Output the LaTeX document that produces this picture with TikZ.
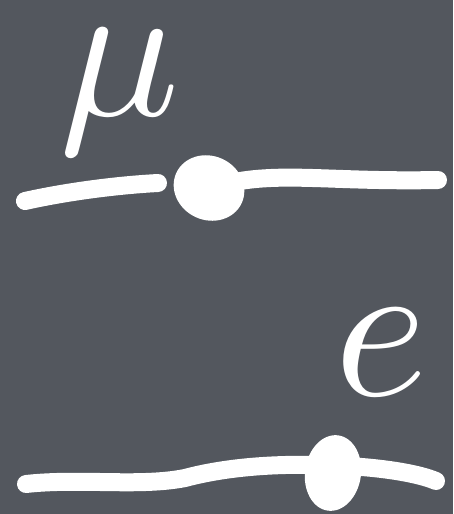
\documentclass[tikz,border=0pt]{standalone}
\usepackage{amsmath}
\usepackage{amssymb}
\usepackage{tikz}
\usetikzlibrary{shapes.geometric}
\definecolor{board}{RGB}{83,87,94}
\tikzset{stroke/.style={white, line width=18pt, line cap=round, line join=round},
  blob/.style={ellipse, fill=white, inner sep=0pt}}

\begin{document}
\begin{tikzpicture}[x=1pt,y=-1pt]
  \fill[board] (0,0) rectangle (453,514);
  \useasboundingbox (0,0) rectangle (453,514);
  % muon line
  \node[white, inner sep=0pt] (mu) at (120,92) {\scalebox{20}{$\mu$}};
  \draw[stroke] (25,201) .. controls (70,191) and (120,185) .. (158,183);
  \draw[stroke] (240,181) .. controls (290,173) and (340,182) .. (438,180);
  \node[blob, minimum width=72pt, minimum height=64pt, rotate=-25] (mudot) at (209,188) {};
  % electron line
  \node[white, inner sep=0pt] (el) at (381,352) {\scalebox{20}{$e$}};
  \draw[stroke] (26,484) .. controls (80,478) and (140,487) .. (185,478)
    .. controls (230,466) and (280,464) .. (320,465)
    .. controls (380,466) and (420,474) .. (436,481);
  \node[blob, minimum width=56pt, minimum height=76pt, rotate=-8] (eldot) at (333,473) {};
\end{tikzpicture}
\end{document}
